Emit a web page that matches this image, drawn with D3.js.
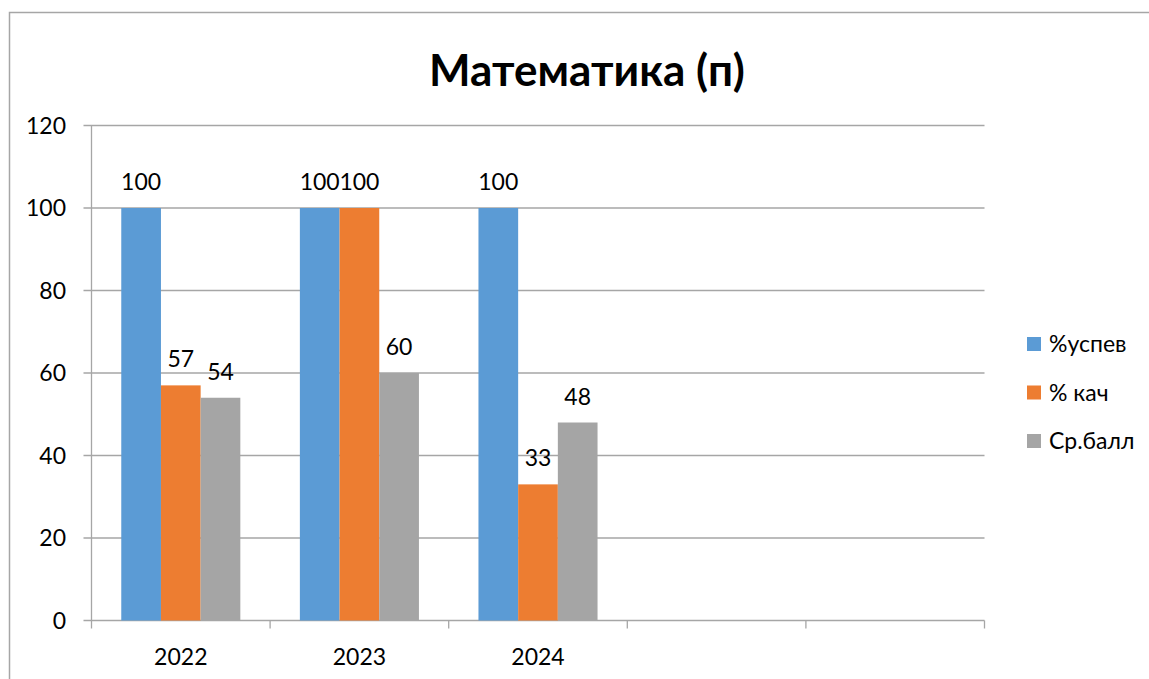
<!DOCTYPE html>
<html><head><meta charset="utf-8">
<script src="https://cdn.jsdelivr.net/npm/d3@7"></script>
<style>body{margin:0;background:#fff}svg{display:block}text{font-family:Lato,"Noto Sans",sans-serif;fill:#000}</style>
</head><body>
<svg id="c" width="1149" height="679"></svg>
<script>
const title = "Математика (п)";
const categories = ["2022","2023","2024","",""];
const seriesNames = ["%успев","% кач","Ср.балл"];
const colors = ["#5b9bd5","#ed7d31","#a5a5a5"];
const uspev = [100,100,100,null,null];
const kach = [57,100,33,null,null];
const ball = [54,60,48,null,null];
const yTicks = [0,20,40,60,80,100,120];

const series = [uspev,kach,ball];
const svg = d3.select("#c");
const W=1149,H=679;
const m={l:91.5,r:984.5,t:125.5,b:620.5};
const fs="23px";

// frame
svg.append("path").attr("d",`M${W+5},12.5 H9.5 V${H+5}`).attr("fill","none").attr("stroke","#a6a6a6").attr("stroke-width",1.5);

const x = d3.scaleBand().domain(d3.range(categories.length)).range([m.l,m.r]);
const xs = d3.scaleBand().domain(d3.range(series.length)).range([0,x.bandwidth()]).paddingOuter(0.75).paddingInner(0);
const y = d3.scaleLinear().domain([0,120]).range([m.b,m.t]);

const grid="#a6a6a6";
svg.append("g").selectAll("line").data(yTicks).join("line")
 .attr("x1",m.l-8).attr("x2",m.r).attr("y1",d=>y(d)).attr("y2",d=>y(d))
 .attr("stroke",grid).attr("stroke-width",1.3);
svg.append("line").attr("x1",m.l).attr("x2",m.l).attr("y1",m.t).attr("y2",m.b).attr("stroke",grid).attr("stroke-width",1.3);
const bounds = d3.range(categories.length+1).map(i=> i<categories.length ? x(i) : x(i-1)+x.bandwidth());
svg.append("g").selectAll("line").data(bounds).join("line")
 .attr("x1",d=>d).attr("x2",d=>d).attr("y1",m.b).attr("y2",m.b+8).attr("stroke",grid).attr("stroke-width",1.3);

svg.append("g").selectAll("text").data(yTicks).join("text")
 .attr("x",66).attr("y",d=>y(d)).attr("dy","0.36em").attr("text-anchor","end")
 .style("font-size",fs).text(d=>d);
svg.append("g").selectAll("text").data(categories).join("text")
 .attr("x",(d,i)=>x(i)+x.bandwidth()/2).attr("y",665).attr("text-anchor","middle")
 .style("font-size",fs).text(d=>d);

series.forEach((s,si)=>{
  const g=svg.append("g");
  const data=s.map((v,i)=>({v,i})).filter(d=>d.v!=null);
  g.selectAll("rect").data(data).join("rect")
   .attr("x",d=>x(d.i)+xs(si)).attr("width",xs.bandwidth())
   .attr("y",d=>y(d.v)).attr("height",d=>y(0)-y(d.v)).attr("fill",colors[si]);
  g.selectAll("text").data(data).join("text")
   .attr("x",d=>x(d.i)+xs(si)+xs.bandwidth()/2).attr("y",d=>y(d.v)-18)
   .attr("text-anchor","middle").style("font-size",fs).text(d=>d.v);
});

svg.append("text").attr("x",587).attr("y",86).attr("text-anchor","middle")
 .style("font-size","44px").style("font-weight","bold").text(title);

const lg=svg.append("g");
seriesNames.forEach((n,i)=>{
  const cy=344+i*48.5;
  lg.append("rect").attr("x",1027).attr("y",cy-7).attr("width",14).attr("height",14).attr("fill",colors[i]);
  lg.append("text").attr("x",1049).attr("y",cy).attr("dy","0.36em").style("font-size",fs).text(n);
});
</script>
</body></html>
